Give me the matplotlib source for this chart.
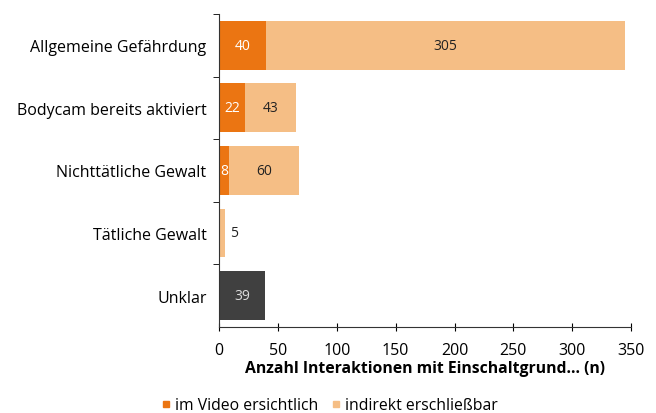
import matplotlib.pyplot as plt
from matplotlib.lines import Line2D

plt.rcParams['font.family'] = ['Open Sans', 'DejaVu Sans']

# Daten
kategorien = ['Allgemeine Gefährdung', 'Bodycam bereits aktiviert',
              'Nichttätliche Gewalt', 'Tätliche Gewalt', 'Unklar']
im_video = [40, 22, 8, 0, 0]
indirekt = [305, 43, 60, 5, 0]
unklar = [0, 0, 0, 0, 39]

c_video = '#EB7512'
c_indirekt = '#F5BE85'
c_unklar = '#404040'

fig = plt.figure(figsize=(6.56, 4.14), dpi=100)
ax = fig.add_axes([0.334, 0.208, 0.628, 0.756])

pos = list(range(len(kategorien)))
ax.barh(pos, im_video, height=0.78, color=c_video)
ax.barh(pos, indirekt, left=im_video, height=0.78, color=c_indirekt)
ax.barh(pos, unklar, height=0.78, color=c_unklar)

# Beschriftungen in den Balken
for i in pos:
    if im_video[i] > 0:
        ax.text(im_video[i] / 2, i, str(im_video[i]), ha='center', va='center',
                color='white', fontsize=10)
    if indirekt[i] > 0:
        if indirekt[i] < 15:
            ax.text(im_video[i] + indirekt[i] + 4, i, str(indirekt[i]),
                    ha='left', va='center', color='#222222', fontsize=10)
        else:
            ax.text(im_video[i] + indirekt[i] / 2, i, str(indirekt[i]),
                    ha='center', va='center', color='#222222', fontsize=10)
    if unklar[i] > 0:
        ax.text(unklar[i] / 2, i, str(unklar[i]), ha='center', va='center',
                color='#dddddd', fontsize=10)

ax.set_ylim(4.5, -0.5)
ax.set_xlim(0, 350)
ax.set_xticks(range(0, 351, 50))
ax.set_yticks(pos)
ax.set_yticklabels(kategorien, fontsize=11.5)
ax.set_yticks([p - 0.5 for p in pos], minor=True)
ax.tick_params(axis='y', which='major', length=0, pad=9)
ax.tick_params(axis='y', which='minor', length=4, direction='out')
ax.tick_params(axis='x', which='major', length=6, direction='inout',
               labelsize=11.5, pad=8)
for s in ['top', 'right']:
    ax.spines[s].set_visible(False)
ax.spines['left'].set_color('#333333')
ax.spines['bottom'].set_color('#333333')
ax.set_xlabel('Anzahl Interaktionen mit Einschaltgrund... (n)',
              fontsize=11.3, fontweight='bold', labelpad=1)

handles = [Line2D([], [], marker='s', linestyle='', color=c_video, markersize=5),
           Line2D([], [], marker='s', linestyle='', color=c_indirekt, markersize=5)]
fig.legend(handles, ['im Video ersichtlich', 'indirekt erschließbar'],
           loc='lower left', bbox_to_anchor=(0.219, -0.035), ncol=2, frameon=False,
           fontsize=11.3, handletextpad=0.1, handlelength=1.0, columnspacing=0.6)

fig.savefig('out.png', dpi=100)
